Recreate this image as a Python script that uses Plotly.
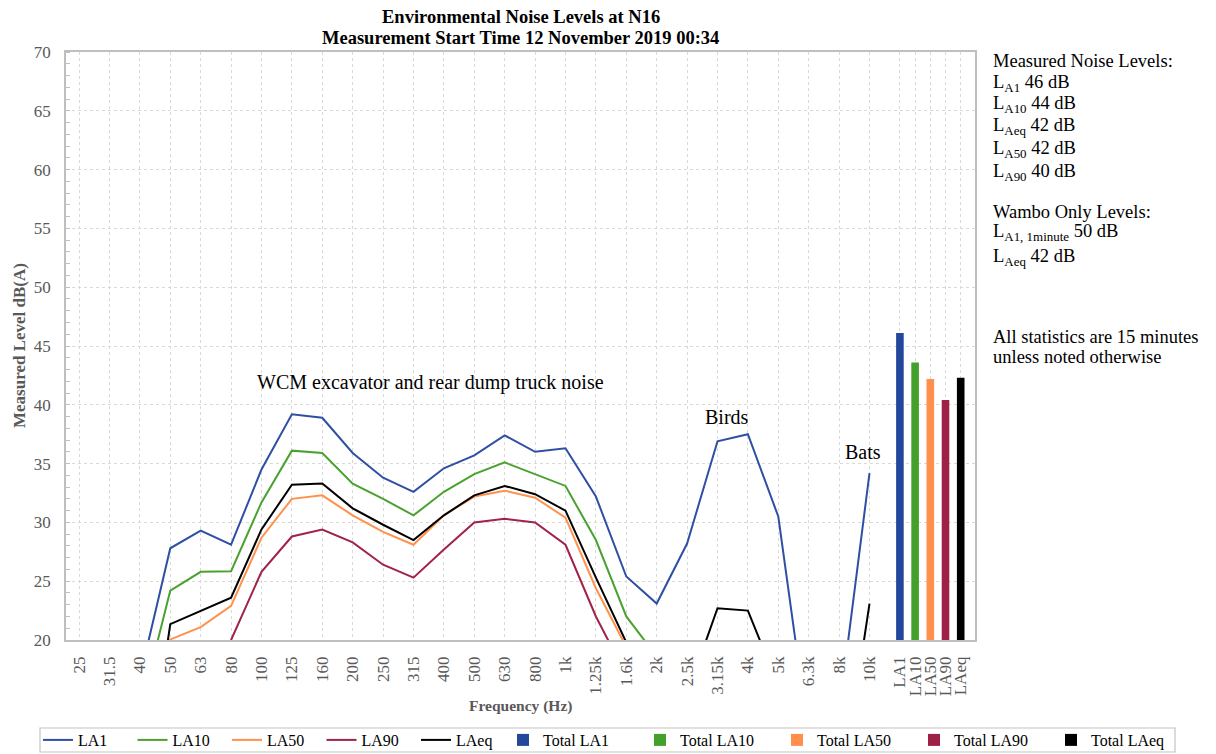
import plotly.graph_objects as go

freq_labels = ["25", "31.5", "40", "50", "63", "80", "100", "125", "160", "200", "250", "315",
               "400", "500", "630", "800", "1k", "1.25k", "1.6k", "2k", "2.5k", "3.15k", "4k",
               "5k", "6.3k", "8k", "10k"]
total_labels = ["LA1", "LA10", "LA50", "LA90", "LAeq"]

la1 = [12.0, 13.0, 16.8, 27.8, 29.3, 28.1, 34.5, 39.2, 38.9, 35.9, 33.8, 32.6, 34.6, 35.7,
       37.4, 36.0, 36.3, 32.2, 25.4, 23.1, 28.2, 36.9, 37.5, 30.5, 11.8, 13.9, 34.2]
la10 = [10.0, 11.0, 13.9, 24.2, 25.8, 25.85, 31.7, 36.1, 35.9, 33.3, 32.0, 30.6, 32.6, 34.1,
        35.1, 34.1, 33.1, 28.5, 22.0, 18.6, 16.0, 17.5, 18.0, 15.0, 10.0, 10.0, 14.0]
la50 = [9.0, 10.0, 12.0, 20.05, 21.1, 22.9, 28.7, 32.0, 32.3, 30.6, 29.2, 28.1, 30.6, 32.2,
        32.7, 32.1, 30.4, 24.4, 19.4, 14.0, 13.0, 15.0, 15.5, 13.0, 9.0, 9.0, 12.0]
la90 = [8.0, 9.0, 10.0, 12.0, 15.0, 20.0, 25.8, 28.8, 29.4, 28.3, 26.4, 25.3, 27.7, 30.0,
        30.3, 30.0, 28.1, 22.0, 16.9, 12.0, 11.0, 13.0, 13.5, 11.0, 8.0, 8.0, 10.0]
laeq = [3.0, 3.5, 4.0, 21.35, 22.5, 23.6, 29.4, 33.2, 33.3, 31.2, 29.8, 28.5, 30.6, 32.3,
        33.1, 32.4, 31.0, 25.3, 19.8, 14.0, 15.4, 22.7, 22.5, 16.1, 8.0, 5.9, 23.1]
totals = [46.1, 43.6, 42.2, 40.4, 42.3]

line_names = ["LA1", "LA10", "LA50", "LA90", "LAeq"]
line_colors = ["#2E4FA3", "#4AA22E", "#FF914D", "#A0234A", "#000000"]
bar_colors = ["#22479B", "#43A02A", "#FF8F4A", "#9E2045", "#000000"]
bar_names = ["Total LA1", "Total LA10", "Total LA50", "Total LA90", "Total LAeq"]

freq_x = list(range(len(freq_labels)))
total_x = [len(freq_labels) + 0.5 * i for i in range(len(total_labels))]

FONT = "Liberation Serif"
GRID = "#D9D9D9"
TICKC = "#595959"

# plot area in page pixels (page has an 8px body margin)
PL, PR, PT, PB = 66, 975, 52, 640
PW, PH = PR - PL, PB - PT


def px(xp):
    return (xp - PL) / PW


def py(yp):
    return (PB - yp) / PH


fig = go.Figure()
for name, ys, col in zip(line_names, [la1, la10, la50, la90, laeq], line_colors):
    fig.add_trace(go.Scatter(x=freq_x, y=ys, mode="lines", name=name,
                             line=dict(color=col, width=2), legend="legend"))
for name, xv, yv, col in zip(bar_names, total_x, totals, bar_colors):
    fig.add_trace(go.Bar(x=[xv], y=[yv], name=name, width=0.25, legend="legend2",
                         marker=dict(color=col, line=dict(width=0))))

fig.update_layout(
    width=1208, height=746,
    margin=dict(l=PL - 8, r=1216 - PR, t=PT - 8, b=754 - PB, autoexpand=False),
    paper_bgcolor="white", plot_bgcolor="white",
    barmode="overlay",
    font=dict(family=FONT, size=16, color="#000000"),
    legend=dict(orientation="h", x=px(38), xanchor="left", y=py(723), yanchor="top",
                borderwidth=0, bgcolor="rgba(0,0,0,0)", entrywidth=49.5, entrywidthmode="pixels",
                font=dict(family=FONT, size=16, color="#000000"), traceorder="normal"),
    legend2=dict(orientation="h", x=px(503), xanchor="left", y=py(723), yanchor="top",
                 borderwidth=0, bgcolor="rgba(0,0,0,0)", entrywidth=92, entrywidthmode="pixels",
                 font=dict(family=FONT, size=16, color="#000000"), traceorder="normal"),
    showlegend=True,
)

fig.update_xaxes(
    range=[-0.43, 29.47],
    tickmode="array",
    tickvals=freq_x + total_x,
    ticktext=freq_labels + total_labels,
    tickangle=-90,
    tickfont=dict(family=FONT, size=17, color=TICKC),
    ticks="outside", ticklen=8, tickcolor="rgba(0,0,0,0)",
    showgrid=True, gridcolor=GRID, griddash="dot", gridwidth=1,
    showline=True, linecolor="#BFBFBF", linewidth=1.5, mirror=True,
    zeroline=False,
)
fig.update_yaxes(
    range=[20, 70], dtick=5, tick0=20,
    tickfont=dict(family=FONT, size=17, color=TICKC),
    ticks="outside", ticklen=10, tickcolor="rgba(0,0,0,0)",
    showgrid=True, gridcolor=GRID, griddash="dot", gridwidth=1,
    showline=True, linecolor="#BFBFBF", linewidth=1.5, mirror=True,
    zeroline=False,
    minor=dict(dtick=1, ticks="inside", ticklen=4, tickcolor="#BFBFBF", showgrid=False),
)

# legend frame
fig.add_shape(type="rect", xref="paper", yref="paper", x0=px(40), x1=px(1175),
              y0=py(752), y1=py(728), line=dict(color="#C4C4C4", width=1.2),
              fillcolor="rgba(0,0,0,0)", layer="above")

# titles
fig.add_annotation(x=0.5, y=py(17), xref="paper", yref="paper", showarrow=False,
                   xanchor="center", yanchor="middle",
                   text="<b>Environmental Noise Levels at N16</b>",
                   font=dict(family=FONT, size=18.5, color="#000000"))
fig.add_annotation(x=0.5, y=py(38), xref="paper", yref="paper", showarrow=False,
                   xanchor="center", yanchor="middle",
                   text="<b>Measurement Start Time 12 November 2019 00:34</b>",
                   font=dict(family=FONT, size=18.5, color="#000000"))
fig.add_annotation(x=px(19), y=0.5, xref="paper", yref="paper", showarrow=False,
                   xanchor="center", yanchor="middle",
                   text="<b>Measured Level dB(A)</b>", textangle=-90,
                   font=dict(family=FONT, size=17, color=TICKC))
fig.add_annotation(x=0.5, y=py(706), xref="paper", yref="paper", showarrow=False,
                   xanchor="center", yanchor="middle",
                   text="<b>Frequency (Hz)</b>",
                   font=dict(family=FONT, size=15.5, color=TICKC))

# in-plot annotations
for txt, xv, yv in [("WCM excavator and rear dump truck noise", 11.55, 41.9),
                    ("Birds", 21.3, 39.0), ("Bats", 25.8, 36.0)]:
    fig.add_annotation(x=xv, y=yv, xref="x", yref="y", text=txt, showarrow=False,
                       font=dict(family=FONT, size=20, color="#000000"))

# right side notes
side = [("Measured Noise Levels:", 61),
        ("L<sub>A1</sub> 46 dB", 84),
        ("L<sub>A10</sub> 44 dB", 104),
        ("L<sub>Aeq</sub> 42 dB", 126),
        ("L<sub>A50</sub> 42 dB", 150),
        ("L<sub>A90</sub> 40 dB", 173),
        ("Wambo Only Levels:", 212),
        ("L<sub>A1, 1minute</sub> 50 dB", 232),
        ("L<sub>Aeq</sub> 42 dB", 257),
        ("All statistics are 15 minutes", 337),
        ("unless noted otherwise", 357)]
for txt, ypix in side:
    fig.add_annotation(x=px(991), y=py(ypix), xref="paper", yref="paper",
                       xanchor="left", yanchor="middle", text=txt, showarrow=False,
                       font=dict(family=FONT, size=18.5, color="#000000"))

fig.write_html("out.html")
